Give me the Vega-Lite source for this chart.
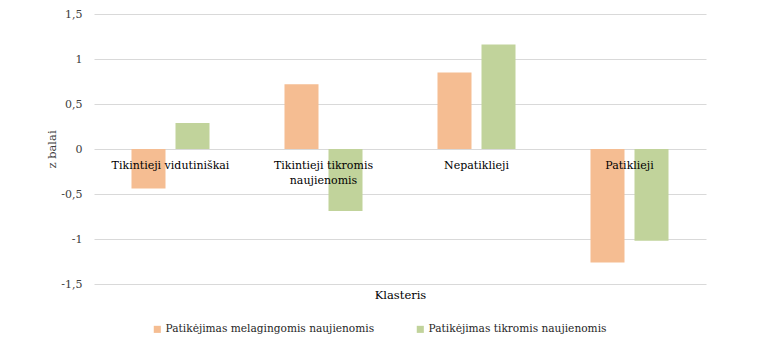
{
  "$schema": "https://vega.github.io/schema/vega-lite/v6.json",
  "autosize": {"type": "none"},
  "width": 612,
  "height": 270,
  "padding": {"left": 94, "top": 14, "right": 62, "bottom": 71},
  "background": "white",
  "config": {
    "view": {"stroke": null},
    "font": "DejaVu Serif",
    "axis": {"labelFont": "DejaVu Serif", "titleFont": "DejaVu Serif"},
    "legend": {"labelFont": "DejaVu Serif"},
    "text": {"font": "DejaVu Serif"}
  },
  "datasets": {
    "bars": [
      {"klasteris": "Tikintieji vidutiniškai", "serija": "Patikėjimas melagingomis naujienomis", "z": -0.44},
      {"klasteris": "Tikintieji vidutiniškai", "serija": "Patikėjimas tikromis naujienomis", "z": 0.29},
      {"klasteris": "Tikintieji tikromis naujienomis", "serija": "Patikėjimas melagingomis naujienomis", "z": 0.72},
      {"klasteris": "Tikintieji tikromis naujienomis", "serija": "Patikėjimas tikromis naujienomis", "z": -0.69},
      {"klasteris": "Nepatiklieji", "serija": "Patikėjimas melagingomis naujienomis", "z": 0.85},
      {"klasteris": "Nepatiklieji", "serija": "Patikėjimas tikromis naujienomis", "z": 1.16},
      {"klasteris": "Patiklieji", "serija": "Patikėjimas melagingomis naujienomis", "z": -1.26},
      {"klasteris": "Patiklieji", "serija": "Patikėjimas tikromis naujienomis", "z": -1.02}
    ],
    "labels": [
      {"klasteris": "Tikintieji vidutiniškai", "label": ["Tikintieji vidutiniškai"]},
      {"klasteris": "Tikintieji tikromis naujienomis", "label": ["Tikintieji tikromis", "naujienomis"]},
      {"klasteris": "Nepatiklieji", "label": ["Nepatiklieji"]},
      {"klasteris": "Patiklieji", "label": ["Patiklieji"]}
    ]
  },
  "encoding": {
    "x": {
      "field": "klasteris",
      "type": "nominal",
      "sort": ["Tikintieji vidutiniškai", "Tikintieji tikromis naujienomis", "Nepatiklieji", "Patiklieji"],
      "scale": {"paddingInner": 0, "paddingOuter": 0},
      "axis": {"title": "Klasteris", "labels": false, "ticks": false, "domain": false, "grid": false, "titleFont": "DejaVu Serif", "titleFontSize": 11.5, "titleFontWeight": "normal", "titleColor": "#000000", "titlePadding": 5}
    }
  },
  "layer": [
    {
      "data": {"name": "bars"},
      "mark": {"type": "bar"},
      "encoding": {
        "xOffset": {"field": "serija", "type": "nominal", "scale": {"paddingInner": 0.227, "paddingOuter": 0.852}},
        "y": {
          "field": "z",
          "type": "quantitative",
          "scale": {"domain": [-1.5, 1.5], "nice": false, "zero": false},
          "axis": {
            "title": "z balai",
            "values": [-1.5, -1, -0.5, 0, 0.5, 1, 1.5],
            "labelExpr": "replace(replace(format(datum.value, '.1~f'), '.', ','), '\u2212', '-')",
            "ticks": false,
            "domain": false,
            "gridColor": "#d9d9d9",
            "gridWidth": 1,
            "labelPadding": 12,
            "labelFont": "DejaVu Serif",
            "labelFontSize": 11,
            "labelColor": "#404040",
            "titleFont": "DejaVu Serif",
            "titleFontSize": 11.5,
            "titleFontWeight": "normal",
            "titleColor": "#404040",
            "titlePadding": 3
          }
        },
        "color": {
          "field": "serija",
          "type": "nominal",
          "scale": {"range": ["#F5BD92", "#C1D39B"]},
          "legend": {
            "title": null,
            "orient": "none",
            "direction": "horizontal",
            "legendX": 58,
            "legendY": 310,
            "symbolType": "square",
            "symbolSize": 50,
            "symbolStrokeWidth": 0,
            "labelFont": "DejaVu Serif",
            "labelFontSize": 10.6,
            "labelColor": "#262626",
            "labelLimit": 300,
            "labelOffset": 3,
            "columnPadding": 40
          }
        }
      }
    },
    {
      "data": {"name": "labels"},
      "mark": {"type": "text", "font": "DejaVu Serif", "baseline": "top", "dy": 11, "fontSize": 11, "lineHeight": 15, "color": "#000000"},
      "encoding": {
        "y": {"datum": 0, "type": "quantitative", "scale": {"domain": [-1.5, 1.5], "nice": false, "zero": false}},
        "text": {"field": "label"}
      }
    }
  ]
}
